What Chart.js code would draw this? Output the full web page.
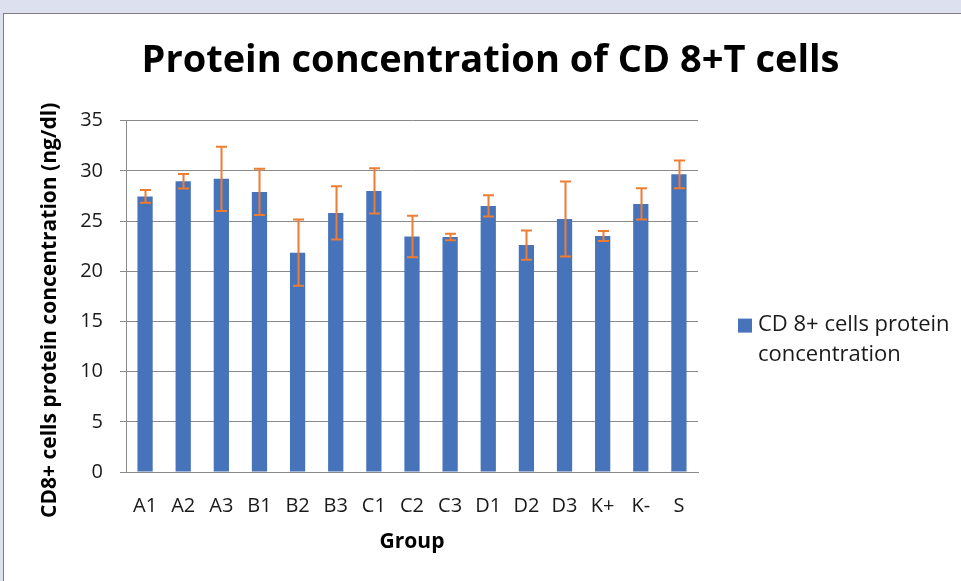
<!DOCTYPE html>
<html>
<head>
<meta charset="utf-8">
<script src="https://cdn.jsdelivr.net/npm/chart.js@4/dist/chart.umd.min.js"></script>
<style>
  html, body { margin: 0; padding: 0; background: #dde0ef; overflow: hidden; }
  #frame { position: absolute; left: 3px; top: 13px; width: 970px; height: 580px;
           background: #ffffff; border: 1.5px solid #7d7d80; box-sizing: border-box; }
  #c { position: absolute; left: 0; top: 0; }
</style>
</head>
<body>
<div id="frame"></div>
<canvas id="c" width="961" height="581"></canvas>
<script>
const categories = ['A1','A2','A3','B1','B2','B3','C1','C2','C3','D1','D2','D3','K+','K-','S'];
const values = [27.45, 28.95, 29.2, 27.9, 21.85, 25.8, 28.0, 23.45, 23.4, 26.5, 22.6, 25.2, 23.5, 26.7, 29.65];
const errors = [0.63, 0.72, 3.2, 2.3, 3.3, 2.65, 2.26, 2.07, 0.32, 1.06, 1.46, 3.74, 0.5, 1.56, 1.38];
const yTicks = [0, 5, 10, 15, 20, 25, 30, 35];
const seriesName = 'CD 8+ cells protein concentration';
const titleText = 'Protein concentration of CD 8+T cells';
const xTitle = 'Group';
const yTitle = 'CD8+ cells protein concentration (ng/dl)';

const FONT = "'Open Sans', sans-serif";
const BAR = '#4673b9';
const ERR = '#ee7d33';
const GRID = '#8a8a8a';

const errorBars = {
  id: 'errorBars',
  afterDatasetsDraw(chart) {
    const ctx = chart.ctx;
    const meta = chart.getDatasetMeta(0);
    const ys = chart.scales.y;
    ctx.save();
    ctx.strokeStyle = ERR;
    ctx.lineWidth = 2;
    meta.data.forEach((bar, i) => {
      const x = Math.round(bar.x) + 0.5;
      const top = ys.getPixelForValue(values[i] + errors[i]);
      const bot = ys.getPixelForValue(values[i] - errors[i]);
      const cap = 5.5;
      ctx.beginPath();
      ctx.moveTo(x, top); ctx.lineTo(x, bot);
      ctx.moveTo(x - cap, top); ctx.lineTo(x + cap, top);
      ctx.moveTo(x - cap, bot); ctx.lineTo(x + cap, bot);
      ctx.stroke();
    });
    ctx.restore();
  }
};

// y-axis title drawn slightly below the axis centre, as in the reference
const yAxisTitle = {
  id: 'yAxisTitle',
  afterDraw(chart) {
    const ctx = chart.ctx;
    const ca = chart.chartArea;
    ctx.save();
    ctx.translate(50, (ca.top + ca.bottom) / 2 + 14);
    ctx.rotate(-Math.PI / 2);
    ctx.font = "bold 21px " + FONT;
    ctx.fillStyle = '#000000';
    ctx.textAlign = 'center';
    ctx.textBaseline = 'middle';
    ctx.fillText(yTitle, 0, 0);
    ctx.restore();
  }
};

const sideLegend = {
  id: 'sideLegend',
  afterDraw(chart) {
    const ctx = chart.ctx;
    const ca = chart.chartArea;
    const ds = chart.data.datasets[0];
    const sx = ca.right + 40;
    const sy = ca.top + 198;
    ctx.save();
    ctx.fillStyle = ds.backgroundColor;
    ctx.fillRect(sx, sy, 14, 14);
    ctx.font = "22px " + FONT;
    ctx.fillStyle = '#1a1a1a';
    ctx.textBaseline = 'middle';
    ctx.textAlign = 'left';
    const maxW = 205;
    const words = ds.label.split(' ');
    const lines = [];
    let cur = '';
    words.forEach(w => {
      const t = cur ? cur + ' ' + w : w;
      if (ctx.measureText(t).width > maxW && cur) { lines.push(cur); cur = w; }
      else cur = t;
    });
    if (cur) lines.push(cur);
    lines.forEach((ln, k) => ctx.fillText(ln, sx + 20, sy + 6 + k * 30));
    ctx.restore();
  }
};

new Chart(document.getElementById('c'), {
  type: 'bar',
  data: {
    labels: categories,
    datasets: [{
      label: seriesName,
      data: values,
      backgroundColor: BAR,
      borderWidth: 0,
      barPercentage: 0.4,
      categoryPercentage: 1.0,
      yAxisID: 'y'
    }]
  },
  options: {
    responsive: false,
    animation: false,
    events: [],
    layout: { padding: { left: 20, right: 0, top: 14, bottom: 0 } },
    plugins: {
      legend: { display: false },
      tooltip: { enabled: false },
      title: {
        display: true,
        text: titleText,
        color: '#000000',
        font: { family: FONT, size: 38, weight: 'bold', lineHeight: 1.2 },
        padding: { top: 24, bottom: 37 }
      }
    },
    scales: {
      x: {
        grid: { display: false, drawTicks: false },
        border: { display: true, color: GRID, width: 1 },
        ticks: { color: '#1a1a1a', font: { family: FONT, size: 20 }, padding: 22, maxRotation: 0, autoSkip: false },
        title: { display: true, text: xTitle, color: '#000000',
                 font: { family: FONT, size: 21, weight: 'bold', lineHeight: 1.2 },
                 padding: { top: 0, bottom: 26 } },
        afterFit(s) { s.height = 581 - 472; }
      },
      y: {
        min: 0, max: 35,
        afterBuildTicks(s) { s.ticks = yTicks.map(v => ({ value: v })); },
        grid: { color: GRID, lineWidth: 1, drawTicks: true, tickLength: 6 },
        border: { display: true, color: GRID, width: 1 },
        ticks: { color: '#1a1a1a', font: { family: FONT, size: 20 }, padding: 17 },
        title: { display: false, text: yTitle },
        afterFit(s) { s.width = 126 - 20; }
      },
      spacer: {
        type: 'linear', position: 'right', display: true,
        grid: { display: false, drawTicks: false },
        border: { display: false },
        ticks: { display: false },
        afterFit(s) { s.width = 961 - 698; }
      }
    }
  },
  plugins: [errorBars, yAxisTitle, sideLegend]
});
</script>
</body>
</html>
